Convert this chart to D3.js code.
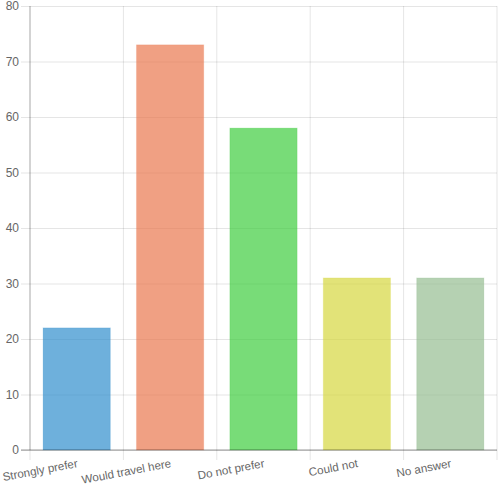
<!DOCTYPE html>
<html><head><meta charset="utf-8">
<script src="https://cdn.jsdelivr.net/npm/d3@7"></script>
<style>body{margin:0;background:#fff}svg{display:block}</style>
</head><body>
<svg id="c" width="500" height="500"></svg>
<script>
const categories = ["Strongly prefer","Would travel here","Do not prefer","Could not","No answer"];
const values = [22,73,58,31,31];
const colors = ["rgb(49,142,205)","rgb(233,119,78)","rgb(62,205,62)","rgb(214,215,62)","rgb(149,189,146)"];
const yTicks = [0,10,20,30,40,50,60,70,80];

const svg = d3.select("#c");
const m = {l:30, r:3, t:6, b:50};
const W = 500, H = 500;
const x = d3.scaleBand().domain(categories).range([m.l, W-m.r]).paddingInner(0).paddingOuter(0);
const y = d3.scaleLinear().domain([0,80]).range([H-m.b, m.t]);
const grid = "rgba(0,0,0,0.1)";
const font = "'Liberation Sans', Arial, Helvetica, sans-serif";

// horizontal grid
const yAxis = d3.axisLeft(y).tickValues(yTicks).tickSize(-(W-m.r-m.l)).tickPadding(0);
const gy = svg.append("g").attr("transform",`translate(${m.l},0)`).call(yAxis);
gy.select(".domain").remove();
gy.selectAll(".tick line").attr("stroke",grid).attr("x1",-9).attr("x2",W-m.r-m.l);
gy.selectAll(".tick text").attr("x",-11).attr("fill","#666").style("font-family",font).style("font-size","12px");

// vertical grid at band boundaries
const bounds = categories.map(c=>x(c)).concat([x(categories[categories.length-1])+x.bandwidth()]);
svg.append("g").selectAll("line").data(bounds).join("line")
  .attr("x1",d=>d).attr("x2",d=>d).attr("y1",m.t).attr("y2",H-m.b+10)
  .attr("stroke",grid);

// bars
const bw = x.bandwidth()*0.72;
svg.append("g").selectAll("rect").data(categories).join("rect")
  .attr("x",(d)=>x(d)+(x.bandwidth()-bw)/2)
  .attr("width",bw)
  .attr("y",(d,i)=>y(values[i]))
  .attr("height",(d,i)=>y(0)-y(values[i]))
  .attr("fill",(d,i)=>colors[i]).attr("fill-opacity",0.7)
  .attr("stroke",(d,i)=>colors[i]).attr("stroke-opacity",0.2).attr("stroke-width",1);

// axis lines
svg.append("line").attr("x1",m.l).attr("x2",m.l).attr("y1",m.t).attr("y2",H-m.b).attr("stroke","rgba(0,0,0,0.25)");
svg.append("line").attr("x1",m.l-9).attr("x2",W-m.r).attr("y1",H-m.b).attr("y2",H-m.b).attr("stroke","rgba(0,0,0,0.4)");

// x labels
svg.append("g").selectAll("text").data(categories).join("text")
  .attr("transform",d=>`translate(${x(d)+x.bandwidth()/2+1.5},${H-m.b+17}) rotate(-10.7)`)
  .attr("text-anchor","end")
  .attr("fill","#666").style("font-family",font).style("font-size","11.6px")
  .text(d=>d);
</script>
</body></html>
